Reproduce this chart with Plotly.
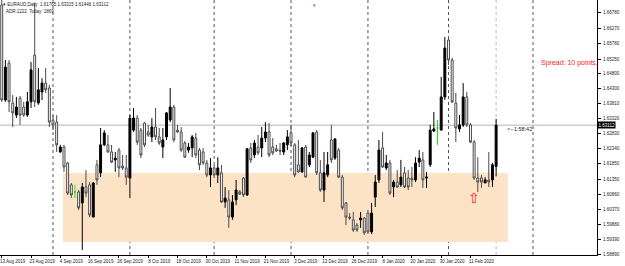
import plotly.graph_objects as go

# ---------------- data (EURAUD daily) ----------------
bars = list(range(136))  # trading-day index, 0 = 13 Aug 2019, 135 = 20 Feb 2020

opens = [1.6702, 1.6393, 1.6513, 1.6383, 1.6344, 1.6399, 1.6370, 1.6344, 1.6387, 1.6539,
         1.6383, 1.6419, 1.6448, 1.6432, 1.6328, 1.6321, 1.6224, 1.6240, 1.6188, 1.6117,
         1.6094, 1.6094, 1.6058, 1.6110, 1.6117, 1.6012, 1.6182, 1.6156, 1.6247, 1.6247,
         1.6224, 1.6198, 1.6230, 1.6178, 1.6172, 1.6139, 1.6295, 1.6334, 1.6295, 1.6318,
         1.6289, 1.6273, 1.6305, 1.6273, 1.6240, 1.6273, 1.6328, 1.6370, 1.6295, 1.6289,
         1.6253, 1.6230, 1.6237, 1.6269, 1.6230, 1.6224, 1.6188, 1.6149, 1.6172, 1.6149,
         1.6156, 1.6061, 1.6068, 1.6012, 1.6068, 1.6094, 1.6139, 1.6084, 1.6237, 1.6214,
         1.6240, 1.6237, 1.6269, 1.6289, 1.6240, 1.6234, 1.6230, 1.6224, 1.6247, 1.6286,
         1.6247, 1.6182, 1.6159, 1.6240, 1.6182, 1.6207, 1.6289, 1.6156, 1.6100, 1.6149,
         1.6263, 1.6204, 1.6230, 1.6142, 1.6058, 1.6012, 1.6003, 1.5986, 1.6003, 1.6009,
         1.6025, 1.5964, 1.6077, 1.6133, 1.6237, 1.6172, 1.6188, 1.6110, 1.6126, 1.6117,
         1.6156, 1.6139, 1.6139, 1.6133, 1.6191, 1.6198, 1.6139, 1.6182, 1.6292, 1.6302,
         1.6295, 1.6403, 1.6588, 1.6523, 1.6383, 1.6299, 1.6312, 1.6403, 1.6312, 1.6256,
         1.6139, 1.6139, 1.6123, 1.6133, 1.6133, 1.61765]

highs = [1.6735, 1.6523, 1.6523, 1.6409, 1.6403, 1.6406, 1.6387, 1.6419, 1.6517, 1.6709,
         1.6497, 1.6464, 1.6497, 1.6442, 1.6344, 1.6344, 1.6247, 1.6247, 1.6191, 1.6123,
         1.6117, 1.6100, 1.6123, 1.6165, 1.6126, 1.6126, 1.6198, 1.6302, 1.6295, 1.6279,
         1.6247, 1.6224, 1.6237, 1.6214, 1.6214, 1.6344, 1.6367, 1.6344, 1.6302, 1.6321,
         1.6312, 1.6334, 1.6367, 1.6302, 1.6302, 1.6354, 1.6432, 1.6377, 1.6312, 1.6305,
         1.6260, 1.6253, 1.6279, 1.6286, 1.6237, 1.6237, 1.6198, 1.6204, 1.6182, 1.6207,
         1.6182, 1.6110, 1.6100, 1.6084, 1.6133, 1.6100, 1.6142, 1.6237, 1.6253, 1.6263,
         1.6279, 1.6305, 1.6321, 1.6318, 1.6269, 1.6247, 1.6253, 1.6256, 1.6295, 1.6312,
         1.6253, 1.6263, 1.6240, 1.6247, 1.6224, 1.6289, 1.6295, 1.6198, 1.6224, 1.6224,
         1.6312, 1.6269, 1.6237, 1.6149, 1.6061, 1.6025, 1.6029, 1.5993, 1.6029, 1.6012,
         1.6035, 1.6058, 1.6149, 1.6263, 1.6289, 1.6214, 1.6198, 1.6133, 1.6165, 1.6198,
         1.6175, 1.6165, 1.6175, 1.6207, 1.6230, 1.6224, 1.6159, 1.6312, 1.6354, 1.6328,
         1.6468, 1.6598, 1.6595, 1.6530, 1.6416, 1.6344, 1.6448, 1.6419, 1.6318, 1.6263,
         1.6207, 1.6149, 1.6142, 1.6224, 1.6188, 1.63315]

lows = [1.6387, 1.6387, 1.6354, 1.6305, 1.6334, 1.6312, 1.6338, 1.6338, 1.6367, 1.6370,
        1.6377, 1.6393, 1.6416, 1.6305, 1.6295, 1.6224, 1.6221, 1.6159, 1.6084, 1.6074,
        1.6074, 1.6035, 1.5905, 1.6077, 1.6012, 1.6012, 1.6117, 1.6142, 1.6243, 1.6221,
        1.6188, 1.6159, 1.6142, 1.6165, 1.6117, 1.6074, 1.6289, 1.6247, 1.6204, 1.6240,
        1.6273, 1.6256, 1.6263, 1.6247, 1.6204, 1.6263, 1.6321, 1.6256, 1.6286, 1.6224,
        1.6204, 1.6221, 1.6207, 1.6204, 1.6165, 1.6182, 1.6142, 1.6110, 1.6139, 1.6123,
        1.6058, 1.6042, 1.5977, 1.6003, 1.6051, 1.6084, 1.6077, 1.6081, 1.6188, 1.6204,
        1.6214, 1.6207, 1.6256, 1.6207, 1.6214, 1.6224, 1.6214, 1.6214, 1.6230, 1.6243,
        1.6142, 1.6156, 1.6156, 1.6142, 1.6175, 1.6204, 1.6149, 1.6094, 1.6061, 1.6142,
        1.6188, 1.6198, 1.6139, 1.6035, 1.5986, 1.6003, 1.5964, 1.5964, 1.5977, 1.5954,
        1.5957, 1.5957, 1.6045, 1.6123, 1.6172, 1.6165, 1.6084, 1.6077, 1.6107, 1.6110,
        1.6107, 1.6100, 1.6110, 1.6126, 1.6175, 1.6107, 1.6107, 1.6175, 1.6289, 1.6247,
        1.6295, 1.6393, 1.6507, 1.6383, 1.6256, 1.6289, 1.6305, 1.6305, 1.6253, 1.6133,
        1.6094, 1.6107, 1.6123, 1.6110, 1.6110, 1.61446]

closes = [1.6393, 1.6500, 1.6387, 1.6351, 1.6370, 1.6344, 1.6344, 1.6387, 1.6491, 1.6387,
          1.6426, 1.6448, 1.6426, 1.6321, 1.6312, 1.6247, 1.6240, 1.6175, 1.6090, 1.6084,
          1.6094, 1.6042, 1.6110, 1.6090, 1.6019, 1.6123, 1.6133, 1.6247, 1.6286, 1.6224,
          1.6191, 1.6204, 1.6172, 1.6172, 1.6142, 1.6334, 1.6334, 1.6256, 1.6214, 1.6247,
          1.6279, 1.6305, 1.6273, 1.6253, 1.6263, 1.6351, 1.6370, 1.6263, 1.6289, 1.6230,
          1.6207, 1.6240, 1.6273, 1.6214, 1.6182, 1.6188, 1.6149, 1.6172, 1.6149, 1.6172,
          1.6061, 1.6074, 1.6012, 1.6061, 1.6100, 1.6087, 1.6084, 1.6234, 1.6198, 1.6253,
          1.6221, 1.6269, 1.6289, 1.6214, 1.6221, 1.6227, 1.6227, 1.6253, 1.6273, 1.6253,
          1.6149, 1.6159, 1.6237, 1.6142, 1.6214, 1.6286, 1.6156, 1.6100, 1.6156, 1.6182,
          1.6198, 1.6266, 1.6142, 1.6042, 1.6012, 1.6009, 1.5970, 1.5970, 1.6009, 1.5961,
          1.5964, 1.6025, 1.6126, 1.6230, 1.6175, 1.6188, 1.6090, 1.6126, 1.6110, 1.6142,
          1.6110, 1.6110, 1.6133, 1.6188, 1.6204, 1.6133, 1.6142, 1.6295, 1.6299, 1.6302,
          1.6403, 1.6562, 1.6523, 1.6387, 1.6302, 1.6312, 1.6403, 1.6312, 1.6256, 1.6139,
          1.6126, 1.6126, 1.6133, 1.6126, 1.6182, 1.63112]

date_tick_bars = [0, 8, 16, 24, 32, 40, 48, 56, 64, 72, 80, 88, 96, 104, 112, 120, 128]
date_tick_labels = ["13 Aug 2019", "23 Aug 2019", "4 Sep 2019", "16 Sep 2019", "26 Sep 2019",
                    "8 Oct 2019", "18 Oct 2019", "30 Oct 2019", "11 Nov 2019", "21 Nov 2019",
                    "3 Dec 2019", "13 Dec 2019", "26 Dec 2019", "8 Jan 2020", "20 Jan 2020",
                    "30 Jan 2020", "11 Feb 2020"]

price_ticks = [1.66780, 1.66270, 1.65780, 1.65250, 1.64800, 1.64300, 1.63810, 1.63320,
               1.62830, 1.62340, 1.61850, 1.61350, 1.60860, 1.60370, 1.59880, 1.59390, 1.58890]

separator_bars = [14, 35, 58, 79, 100, 122, 145.07]   # month separators
last_bar_line = 135
zone_bars = [16.73, 138.2]
zone_prices = [1.59311, 1.61555]
bid_price = 1.63112
arrow_bar, arrow_price = 129, 1.60742
marker_bar = 85.3

header_line1 = "\u25be EURAUD,Daily  1.61765 1.63315 1.61446 1.63112"
header_line2 = "ADR:1222  Today: 1869"
spread_text = "Spread: 10 points."
timer_text = "<--1:58:42"

# ---------------- figure ----------------
doji = [i for i in bars if opens[i] == closes[i]]
normal = [i for i in bars if opens[i] != closes[i]]

fig = go.Figure()
fig.add_trace(go.Candlestick(
    x=[bars[i] for i in normal],
    open=[opens[i] for i in normal], high=[highs[i] for i in normal],
    low=[lows[i] for i in normal], close=[closes[i] for i in normal],
    increasing=dict(fillcolor="#000000", line=dict(color="#000000", width=1)),
    decreasing=dict(fillcolor="#ffffff", line=dict(color="#4a4a4a", width=1)),
    whiskerwidth=0, showlegend=False, hoverinfo="skip"))
fig.add_trace(go.Candlestick(
    x=[bars[i] for i in doji],
    open=[opens[i] for i in doji], high=[highs[i] for i in doji],
    low=[lows[i] for i in doji], close=[closes[i] for i in doji],
    increasing=dict(fillcolor="#22dd22", line=dict(color="#22dd22", width=1)),
    decreasing=dict(fillcolor="#22dd22", line=dict(color="#22dd22", width=1)),
    whiskerwidth=0, showlegend=False, hoverinfo="skip"))

shapes = []
shapes.append(dict(type="rect", xref="x", yref="y", x0=zone_bars[0], x1=zone_bars[1],
                   y0=zone_prices[0], y1=zone_prices[1], fillcolor="#fde3c6",
                   line=dict(width=0), layer="below"))
shapes.append(dict(type="line", xref="paper", yref="y", x0=0, x1=1, y0=bid_price, y1=bid_price,
                   line=dict(color="#aab3c6", width=1), layer="below"))
for b in separator_bars:
    shapes.append(dict(type="line", xref="x", yref="paper", x0=b, x1=b, y0=0, y1=1,
                       line=dict(color="#555555", width=1, dash="dot"), layer="below"))
shapes.append(dict(type="line", xref="x", yref="paper", x0=last_bar_line, x1=last_bar_line, y0=0, y1=1,
                   line=dict(color="#b8b8b8", width=1, dash="dot"), layer="below"))

annotations = [
    dict(xref="paper", yref="paper", x=0.002, y=1.0, xanchor="left", yanchor="top",
         text=header_line1, showarrow=False, font=dict(size=4.5, color="#222222", family="Liberation Sans")),
    dict(xref="paper", yref="paper", x=0.006, y=0.972, xanchor="left", yanchor="top",
         text=header_line2, showarrow=False, font=dict(size=4.5, color="#222222", family="Liberation Sans")),
    dict(xref="paper", yref="paper", x=0.903, y=0.752, xanchor="left", yanchor="middle",
         text=spread_text, showarrow=False, font=dict(size=7, color="#ff2020", family="Liberation Sans")),
    dict(xref="x", yref="y", x=137.5, y=bid_price - 0.0013, xanchor="left", yanchor="middle",
         text=timer_text, showarrow=False, font=dict(size=5.5, color="#222222", family="Liberation Sans")),
    dict(xref="x", yref="y", x=arrow_bar, y=arrow_price, xanchor="center", yanchor="middle",
         text="\u21e7", showarrow=False, font=dict(size=14, color="#ff2020", family="DejaVu Sans")),
    dict(xref="x", yref="paper", x=marker_bar, y=1.0, xanchor="center", yanchor="top",
         text="\u25be", showarrow=False, font=dict(size=5, color="#5a5acc", family="DejaVu Sans")),
    dict(xref="paper", yref="y", x=1.0, y=bid_price, xanchor="left", yanchor="middle",
         text="1.63112", showarrow=False, bgcolor="#000000", borderpad=0.5,
         font=dict(size=4.5, color="#ffffff", family="Liberation Sans")),
]

fig.update_layout(
    width=625, height=266,
    margin=dict(l=0, r=28, t=0, b=11),
    paper_bgcolor="#ffffff", plot_bgcolor="#ffffff",
    shapes=shapes, annotations=annotations,
    showlegend=False, boxgap=0.25,
    xaxis=dict(range=[-0.472, 162.55], rangeslider=dict(visible=False), showgrid=False,
               zeroline=False, showline=True, linecolor="#000000", linewidth=1,
               tickmode="array", tickvals=date_tick_bars, ticktext=date_tick_labels,
               ticks="outside", ticklen=2, tickcolor="#000000", ticklabelshift=11,
               ticklabelstandoff=0,
               tickfont=dict(size=4.5, color="#222222", family="Liberation Sans")),
    yaxis=dict(range=[1.58887, 1.67183], side="right", showgrid=False, zeroline=False,
               showline=True, linecolor="#000000", linewidth=1,
               tickmode="array", tickvals=price_ticks,
               ticktext=[f"{v:.5f}" for v in price_ticks],
               ticks="outside", ticklen=3, tickcolor="#000000", ticklabelstandoff=1,
               tickfont=dict(size=4.5, color="#222222", family="Liberation Sans")),
)

fig.write_html("out.html")
